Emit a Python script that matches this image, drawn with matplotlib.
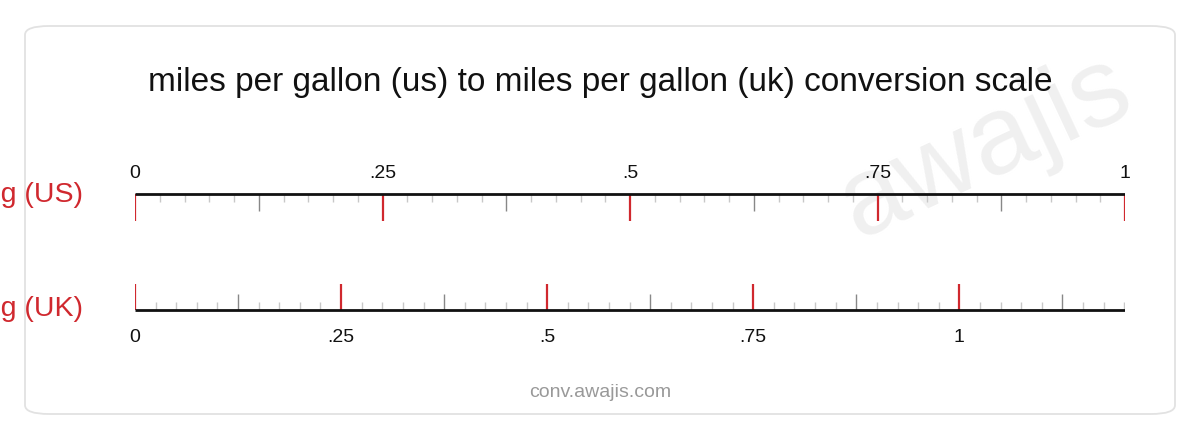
import numpy as np
import matplotlib
matplotlib.use("Agg")
import matplotlib.pyplot as plt
from matplotlib.patches import FancyBboxPatch

plt.rcParams['font.family'] = ['Liberation Sans', 'DejaVu Sans']

# conversion: 1 mpg (US) = 1.20095 mpg (UK)
US_TO_UK = 1.20095
title = "miles per gallon (us) to miles per gallon (uk) conversion scale"
top_name = "mpg (US)"
bottom_name = "mpg (UK)"
top_major = [0, 0.25, 0.5, 0.75, 1]
top_labels = ["0", ".25", ".5", ".75", "1"]
bottom_major = [0, 0.25, 0.5, 0.75, 1]
bottom_labels = ["0", ".25", ".5", ".75", "1"]
minor_step = 0.025
mid_step = 0.125

RED = "#d0282e"
W, H = 1200, 440
fig = plt.figure(figsize=(12, 4.4), dpi=100)

# rounded card background
card = FancyBboxPatch((25 / W, 26 / H), 1150 / W, 388 / H,
                      boxstyle="round,pad=0,rounding_size=0.02",
                      transform=fig.transFigure, facecolor="white",
                      edgecolor="#e2e2e2", linewidth=1.3, zorder=-2)
fig.patches.append(card)

fig.text(600 / W, 1 - 83 / H, title, ha="center", va="center", fontsize=24, color="#111111")
fig.text(600 / W, 1 - 392 / H, "conv.awajis.com", ha="center", va="center", fontsize=14, color="#999999")
fig.text(985 / W, 1 - 148 / H, "awajis", ha="center", va="center", fontsize=80,
         color="#f0f0f0", rotation=25, zorder=-1)

fig.text(83 / W, 1 - 195 / H, top_name, ha="right", va="center", fontsize=20.5, color=RED)
fig.text(83 / W, 1 - 309 / H, bottom_name, ha="right", va="center", fontsize=20.5, color=RED)

x0, x1 = 135, 1125
def scale_axes(xmax):
    ax = fig.add_axes([x0 / W, 0, (x1 - x0) / W, 1])
    ax.set_xlim(0, xmax)
    ax.set_ylim(H, 0)
    ax.axis("off")
    ax.patch.set_alpha(0)
    return ax

def ticks(vmax):
    n = int(round(vmax / minor_step + 1e-9))
    vals = np.round(np.arange(0, n + 1) * minor_step, 4)
    vals = vals[vals <= vmax + 1e-9]
    major = [v for v in vals if abs(v / 0.25 - round(v / 0.25)) < 1e-6]
    mid = [v for v in vals if abs(v / mid_step - round(v / mid_step)) < 1e-6 and v not in major]
    minor = [v for v in vals if v not in major and v not in mid]
    return major, mid, minor

# top scale (US)
ax1 = scale_axes(1.0)
y_line = 194
major, mid, minor = ticks(1.0)
ax1.vlines(minor, y_line, y_line + 8, color="#c8c8c8", linewidth=1)
ax1.vlines(mid, y_line, y_line + 17, color="#888888", linewidth=1)
ax1.vlines(major, y_line, y_line + 27, color=RED, linewidth=1.6)
ax1.plot([0, 1.0], [y_line, y_line], color="#111111", linewidth=2, solid_capstyle="butt")
for v, lab in zip(top_major, top_labels):
    ax1.text(v, 173, lab, ha="center", va="center", fontsize=14, color="#111111")

# bottom scale (UK)
ax2 = scale_axes(US_TO_UK)
y_line = 310
major, mid, minor = ticks(US_TO_UK)
ax2.vlines(minor, y_line - 8, y_line, color="#c8c8c8", linewidth=1)
ax2.vlines(mid, y_line - 16, y_line, color="#888888", linewidth=1)
ax2.vlines(major, y_line - 26, y_line, color=RED, linewidth=1.6)
ax2.plot([0, US_TO_UK], [y_line, y_line], color="#111111", linewidth=2, solid_capstyle="butt")
for v, lab in zip(bottom_major, bottom_labels):
    ax2.text(v, 337, lab, ha="center", va="center", fontsize=14, color="#111111")

fig.savefig("out.png", dpi=100)
